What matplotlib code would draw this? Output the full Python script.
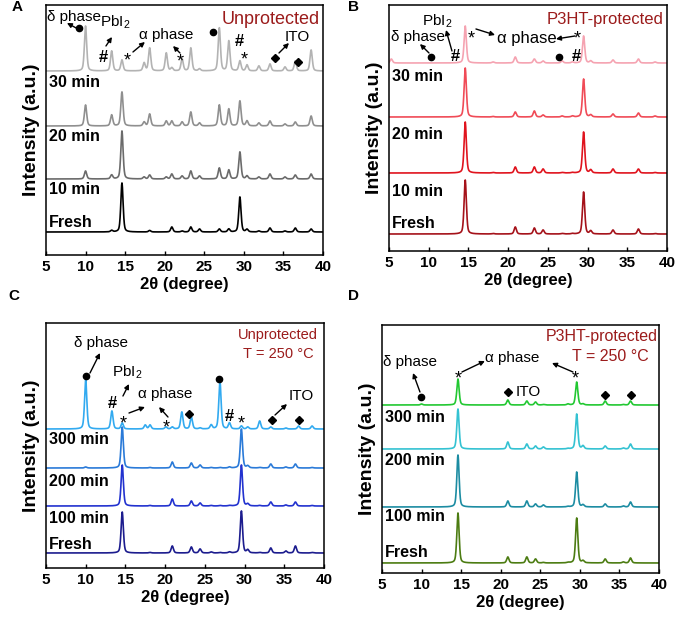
import matplotlib
matplotlib.use("Agg")
import matplotlib.pyplot as plt
import numpy as np

plt.rcParams['font.family'] = ['Liberation Sans', 'DejaVu Sans']
plt.rcParams['mathtext.default'] = 'regular'

# ---- panel A: unprotected, ambient ----
a_pos = [10.0, 13.3, 14.6, 17.4, 18.1, 20.2, 20.9, 22.2, 23.3, 24.4, 26.9, 28.1, 29.5, 30.4, 31.9, 33.3, 35.2, 36.5, 38.5]
a_fresh = [0, 1.5, 49, 0, 1.5, 0, 5, 1, 5, 3, 3, 3, 35, 2.5, 1, 4, 1, 4, 3]
a_10 = [8, 4, 48, 2, 4, 2, 5, 3, 8, 3, 11, 9, 27, 3, 2, 5, 2, 4, 5]
a_20 = [21, 11, 34, 4, 12, 5, 5, 4, 14, 3, 21, 17, 25, 5, 3, 5, 2, 4, 10]
a_30 = [45, 20, 11, 8, 23, 18, 3, 12, 23, 2, 43, 30, 10, 6, 5, 7, 4, 10, 21]
a_labels = ["Fresh", "10 min", "20 min", "30 min"]
a_offsets = [23, 76, 129, 184]
a_label_y = [32, 65, 118, 172]
a_colors = ["#000000", "#6b6b6b", "#8f8f8f", "#b3b3b3"]

# ---- panel B: P3HT-protected, ambient ----
b_pos = [5.3, 14.6, 18.1, 20.9, 23.3, 24.4, 26.8, 28.1, 29.5, 30.4, 33.2, 36.4, 38.5]
b_fresh = [0, 54, 0.5, 7, 6, 4, 0.5, 0.5, 42, 3, 4, 5, 0.5]
b_10 = [0, 51, 0.5, 6, 6, 4, 0.5, 0.5, 41, 3, 4, 4, 0.5]
b_20 = [0, 49, 0.5, 5, 6, 2, 1, 1, 38, 2, 3, 4, 1]
b_30 = [4, 37, 1, 6, 4, 2, 2, 1, 27, 2, 3, 4, 1]
b_labels = ["Fresh", "10 min", "20 min", "30 min"]
b_offsets = [17, 78, 134, 188]
b_label_y = [28, 60, 116, 174]
b_colors = ["#a5121a", "#e0141e", "#f04b57", "#f5a3b1"]

# ---- panel C: unprotected, 250 C ----
c_pos = [10.0, 13.3, 14.6, 17.5, 18.1, 20.1, 20.9, 22.1, 23.3, 24.4, 25.8, 26.9, 28.1, 29.6, 30.4, 31.9, 33.3, 35.2, 36.4, 36.8, 38.5]
c_fresh = [0, 0, 41, 0, 0.5, 0, 7, 0, 6, 4, 1, 0.5, 1, 42, 3, 0.5, 5, 2, 7, 0, 0.5]
c_100 = [0, 0, 41, 0, 0.5, 0, 7, 0, 5, 3, 0.5, 0.5, 0.5, 41, 2, 0.5, 4, 1, 4, 0, 0.5]
c_200 = [1, 0, 41, 0, 0.5, 0, 6, 0, 5, 3, 0.5, 0.5, 1, 39, 2, 0.5, 4, 1, 4, 0, 0.5]
c_300 = [49, 18, 6, 4, 4, 2, 2, 17, 12, 1, 4, 48, 6, 3, 2, 8, 2, 1, 0, 3, 3]
c_labels = ["Fresh", "100 min", "200 min", "300 min"]
c_offsets = [15, 62, 100, 139]
c_label_y = [23, 49, 87, 129]
c_colors = ["#1c1c8e", "#2232cf", "#2a7ad8", "#32aaf0"]

# ---- panel D: P3HT-protected, 250 C ----
d_pos = [10.0, 14.6, 20.9, 23.3, 24.4, 25.4, 28.5, 29.6, 30.4, 33.2, 35.5, 36.4]
d_fresh = [0, 50, 6, 6, 4, 0.5, 0.5, 45, 2, 4, 1, 5]
d_100 = [0, 52, 6, 6, 3, 2, 0.5, 35, 2, 3, 1, 5]
d_200 = [0, 40, 7, 5, 3, 2, 0.5, 35, 3, 3, 1, 5]
d_300 = [1, 26, 5, 4, 3, 0.5, 1, 23, 1, 4, 0.5, 4]
d_labels = ["Fresh", "100 min", "200 min", "300 min"]
d_offsets = [10, 66, 124, 168]
d_label_y = [20, 56, 112, 156]
d_colors = ["#4c7c12", "#1c8ca2", "#34c2d2", "#22c832"]

two_theta = np.arange(5, 40.001, 0.02)


def pattern(pos, heights, fwhm=0.34):
    y = np.zeros_like(two_theta)
    for p, h in zip(pos, heights):
        u = (two_theta - p) / fwhm
        y += h * (0.6 * np.exp(-4 * np.log(2) * u ** 2) + 0.4 / (1 + 4 * u ** 2))
    return y


def setup(ax, ytop):
    ax.set_xlim(5, 40)
    ax.set_ylim(0, ytop)
    ax.set_xticks(range(5, 41, 5))
    ax.set_yticks([])
    ax.tick_params(axis='x', direction='in', length=3, width=1, labelsize=11)
    for lab in ax.get_xticklabels():
        lab.set_fontweight('bold')
    for s in ax.spines.values():
        s.set_linewidth(1.1)
    ax.set_xlabel("2θ (degree)", fontsize=12, fontweight='bold', labelpad=2)
    ax.set_ylabel("Intensity (a.u.)", fontsize=14, fontweight='bold', labelpad=4)


def arrow(ax, x0, y0, x1, y1):
    ax.annotate("", xy=(x1, y1), xytext=(x0, y0),
                arrowprops=dict(arrowstyle='-|>', color='black', lw=1.0, mutation_scale=7,
                                shrinkA=0, shrinkB=0))


def sym(ax, s, x, y):
    if s == 'dot':
        ax.plot([x], [y], 'o', color='black', ms=4.5)
    elif s == 'dia':
        ax.plot([x], [y], 'D', color='black', ms=4.5)
    elif s == '*':
        ax.text(x, y - 4, '*', ha='center', va='center', fontsize=13)
    else:
        ax.text(x, y, s, ha='center', va='center', fontsize=12, fontweight='bold')


def curves(ax, pos, series, offsets, colors, labels, label_y):
    for h, off, c in zip(series, offsets, colors):
        ax.plot(two_theta, pattern(pos, h) + off, color=c, lw=1.2)
    for lab, ly in zip(labels, label_y):
        ax.text(5.4, ly, lab, fontsize=11.5, fontweight='bold', va='center', ha='left')


fig = plt.figure(figsize=(6.78, 6.23), dpi=100)
axA = fig.add_axes([0.0678, 0.5907, 0.4086, 0.4013])
axB = fig.add_axes([0.5737, 0.5971, 0.4101, 0.3949])
axC = fig.add_axes([0.0678, 0.0883, 0.4101, 0.3932])
axD = fig.add_axes([0.5634, 0.0803, 0.4086, 0.3980])

dark_red = "#9b1b1b"
ann = 11

# A
setup(axA, 250)
curves(axA, a_pos, [a_fresh, a_10, a_20, a_30], a_offsets, a_colors, a_labels, a_label_y)
axA.text(5.1, 238, "δ phase", fontsize=ann, ha='left', va='center')
sym(axA, 'dot', 9.17, 227)
arrow(axA, 9.05, 226, 7.65, 232)
axA.text(13.72, 233, "PbI$_2$", fontsize=ann, ha='center', va='center')
sym(axA, '#', 12.2, 197)
arrow(axA, 12.58, 209, 13.34, 218)
sym(axA, '*', 15.24, 198)
arrow(axA, 15.99, 203, 17.5, 213)
axA.text(20.16, 220, "α phase", fontsize=ann, ha='center', va='center')
sym(axA, '*', 21.93, 197)
arrow(axA, 21.93, 202, 21.05, 209)
sym(axA, 'dot', 26.1, 223)
sym(axA, '#', 29.39, 213)
sym(axA, '*', 30.02, 199)
axA.text(39.6, 235, "Unprotected", fontsize=13, color=dark_red, ha='right', va='center')
axA.text(36.7, 218, "ITO", fontsize=ann, ha='center', va='center')
sym(axA, 'dia', 33.94, 197)
arrow(axA, 34.44, 202, 35.7, 212)
sym(axA, 'dia', 36.84, 193)

# B
setup(axB, 246)
curves(axB, b_pos, [b_fresh, b_10, b_20, b_30], b_offsets, b_colors, b_labels, b_label_y)
axB.text(11.04, 230, "PbI$_2$", fontsize=ann, ha='center', va='center')
axB.text(5.25, 214, "δ phase", fontsize=ann, ha='left', va='center')
sym(axB, 'dot', 10.29, 194)
arrow(axB, 10.04, 198, 8.9, 207)
sym(axB, '#', 13.31, 194)
arrow(axB, 12.93, 200, 12.18, 221)
sym(axB, '*', 15.32, 216)
arrow(axB, 15.95, 222, 18.35, 216)
axB.text(22.37, 212, "α phase", fontsize=12, ha='center', va='center')
arrow(axB, 28.42, 215, 26.02, 212)
sym(axB, '*', 28.67, 216)
sym(axB, 'dot', 26.4, 194)
sym(axB, '#', 28.54, 194)
axB.text(39.62, 231, "P3HT-protected", fontsize=12, color=dark_red, ha='right', va='center')

# C
setup(axC, 245)
curves(axC, c_pos, [c_fresh, c_100, c_200, c_300], c_offsets, c_colors, c_labels, c_label_y)
axC.text(11.92, 225, "δ phase", fontsize=ann, ha='center', va='center')
sym(axC, 'dot', 10.04, 192)
arrow(axC, 10.54, 195, 11.8, 215)
axC.text(15.2, 196, "PbI$_2$", fontsize=ann, ha='center', va='center')
sym(axC, '#', 13.31, 165)
arrow(axC, 14.69, 172, 15.45, 184)
sym(axC, '*', 14.69, 148)
arrow(axC, 15.45, 155, 17.46, 161)
axC.text(19.98, 174, "α phase", fontsize=ann, ha='center', va='center')
sym(axC, '*', 20.1, 144)
arrow(axC, 20.36, 151, 19.23, 161)
sym(axC, 'dia', 23.0, 154)
sym(axC, 'dot', 26.78, 189)
sym(axC, '#', 28.04, 152)
sym(axC, '*', 29.55, 148)
axC.text(37.1, 172, "ITO", fontsize=ann, ha='center', va='center')
sym(axC, 'dia', 33.45, 148)
arrow(axC, 33.83, 153, 35.34, 164)
sym(axC, 'dia', 36.85, 148)
axC.text(34.2, 233, "Unprotected", fontsize=10.5, color=dark_red, ha='center', va='center')
axC.text(34.2, 214, "T = 250 °C", fontsize=10.5, color=dark_red, ha='center', va='center')

# D
setup(axD, 248)
curves(axD, d_pos, [d_fresh, d_100, d_200, d_300], d_offsets, d_colors, d_labels, d_label_y)
axD.text(8.54, 211, "δ phase", fontsize=ann, ha='center', va='center')
sym(axD, 'dot', 9.93, 176)
arrow(axD, 9.8, 181, 8.92, 200)
sym(axD, '*', 14.6, 198)
arrow(axD, 15.1, 201, 18.0, 212)
axD.text(21.43, 215, "α phase", fontsize=ann, ha='center', va='center')
arrow(axD, 29.13, 201, 26.48, 210)
sym(axD, '*', 29.39, 198)
sym(axD, 'dia', 20.92, 181)
axD.text(21.93, 181, "ITO", fontsize=ann, ha='left', va='center')
sym(axD, 'dia', 33.18, 178)
sym(axD, 'dia', 36.46, 178)
axD.text(32.8, 237, "P3HT-protected", fontsize=11.5, color=dark_red, ha='center', va='center')
axD.text(33.8, 217, "T = 250 °C", fontsize=11.5, color=dark_red, ha='center', va='center')

for lab, x, y in [("A", 12, 7), ("B", 348, 7), ("C", 8, 296), ("D", 348, 296)]:
    fig.text(x / 678, 1 - y / 623, lab, fontsize=11, fontweight='bold', ha='left', va='center')

fig.savefig("out.png", dpi=100)
